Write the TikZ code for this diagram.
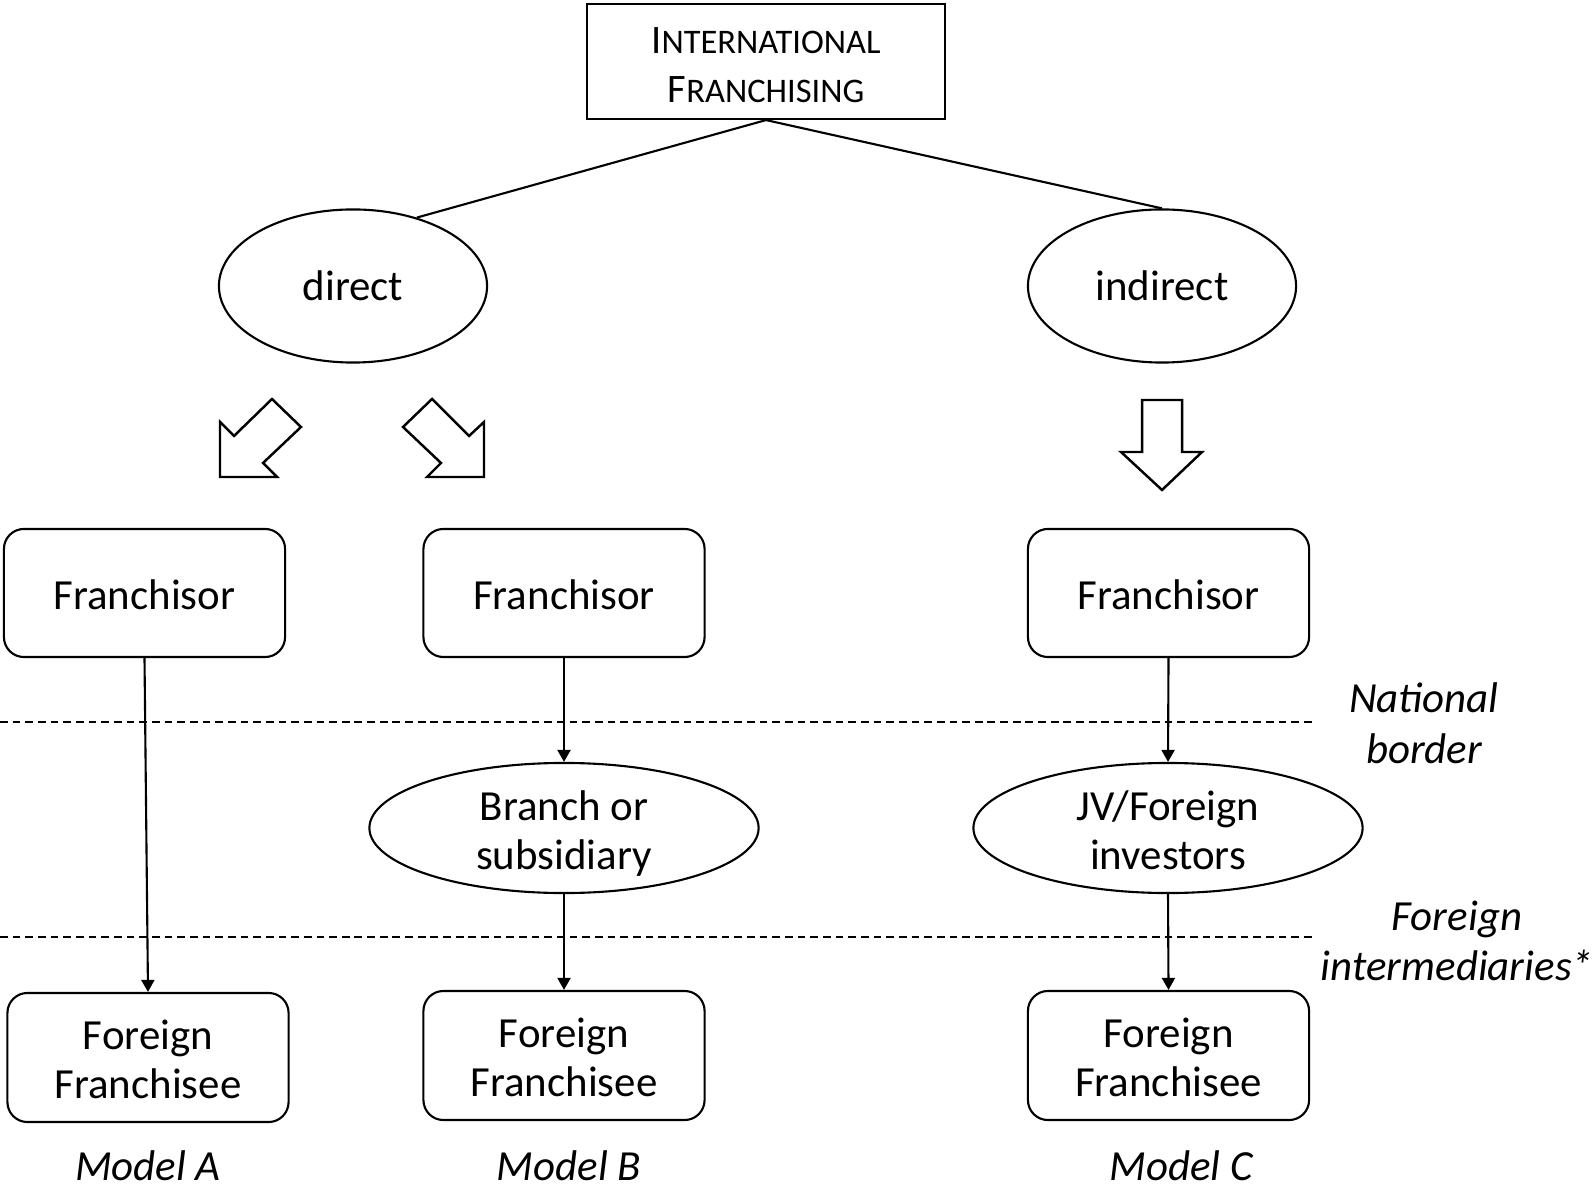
\documentclass[tikz,border=0pt]{standalone}
\usepackage{fontspec}
\setmainfont{Carlito}
\usetikzlibrary{shapes.geometric,arrows.meta}
% faked small capitals: full-size initial, reduced capitals after it
\newcommand{\fsc}[2]{{\fontsize{11.5}{14}\selectfont #1}{\fontsize{9.8}{14}\selectfont #2}}
% struts that set the vertical balance of two-line labels
\newcommand{\topstrut}{\rule{0pt}{12.5pt}}
\newcommand{\botstrut}{\rule[-3pt]{0pt}{3pt}}
\begin{document}
\begin{tikzpicture}[x=0.01cm,y=-0.01cm,line width=0.6pt,
  lbl/.style={font=\fontsize{12.2}{13.9}\selectfont, align=center},
  box/.style={lbl, draw, rounded corners=0.2cm, minimum width=2.81cm, minimum height=1.28cm, inner sep=0pt},
  oval/.style={lbl, draw, ellipse, inner sep=0pt},
  link/.style={-{Triangle[length=1.2mm,width=1.3mm]}},
  borderline/.style={line width=0.4pt, dash pattern=on 2.2pt off 1.4pt},
  side/.style={font=\fontsize{12.2}{14.4}\selectfont\itshape, align=center},
  blockarrow/.style={draw, line width=0.7pt, line join=miter}]
\useasboundingbox (0,0) rectangle (1592,1189);

% root of the tree
\node[lbl, draw, minimum width=3.58cm, minimum height=1.15cm, inner sep=0pt]
  (title) at (766,61.5) {\topstrut\fsc{I}{NTERNATIONAL}\\\fsc{F}{RANCHISING}\botstrut};

% the two routes
\node[oval, minimum width=2.68cm, minimum height=1.53cm] (direct) at (353,286) {direct};
\node[oval, minimum width=2.68cm, minimum height=1.53cm] (indirect) at (1162,286) {indirect};
\draw (title.south) -- (direct.47);
\draw (title.south) -- (indirect.north);

% hollow block arrows
\draw[blockarrow] (220,477) -- (277,477) -- (263,463) -- (301,427) -- (272,399) -- (234,436) -- (220,422) -- cycle;
\draw[blockarrow] (484,477) -- (427,477) -- (441,463) -- (403,427) -- (432,399) -- (469,436) -- (484,422) -- cycle;
\draw[blockarrow] (1142,400) -- (1182,400) -- (1182,452) -- (1202,452) -- (1162,490) -- (1121,452) -- (1142,452) -- cycle;

% franchisors
\node[box, text height=9.2pt, text depth=0pt] (frA) at (144.5,593) {Franchisor};
\node[box, text height=9.2pt, text depth=0pt] (frB) at (564,593) {Franchisor};
\node[box, text height=9.2pt, text depth=0pt] (frC) at (1168.5,593) {Franchisor};

% intermediaries
\node[oval, inner ysep=-3pt, minimum width=3.89cm, minimum height=1.30cm] (branch) at (564,828) {\topstrut Branch or\\subsidiary\botstrut};
\node[oval, inner ysep=-3pt, minimum width=3.89cm, minimum height=1.30cm] (jv) at (1168,828) {\topstrut JV/Foreign\\investors\botstrut};

% franchisees
\node[box, minimum height=1.29cm] (feA) at (148,1057.5) {\topstrut Foreign\\Franchisee\botstrut};
\node[box, minimum height=1.29cm] (feB) at (564,1055.5) {\topstrut Foreign\\Franchisee\botstrut};
\node[box, minimum height=1.29cm] (feC) at (1168.5,1055.5) {\topstrut Foreign\\Franchisee\botstrut};

% connectors
\draw[link] (frA.south) -- (feA.north);
\draw[link] (frB.south) -- (branch.north);
\draw[link] (branch.south) -- (feB.north);
\draw[link] (frC.south) -- (jv.north);
\draw[link] (jv.south) -- (feC.north);

% borders
\coordinate (natL) at (0,722);
\coordinate (natR) at (1314,722);
\coordinate (forL) at (0,937);
\coordinate (forR) at (1314,937);
\draw[borderline] (natL) -- (natR);
\draw[borderline] (forL) -- (forR);
\node[side] (natlabel) at (1424,723) {National\\border};
\node[side] (forlabel) at (1457,941) {Foreign\\intermediaries*};

% model captions
\node[side, inner sep=0pt] (mA) at (148,1166) {Model A};
\node[side, inner sep=0pt] (mB) at (569,1166) {Model B};
\node[side, inner sep=0pt] (mC) at (1181,1166) {Model C};
\end{tikzpicture}
\end{document}
